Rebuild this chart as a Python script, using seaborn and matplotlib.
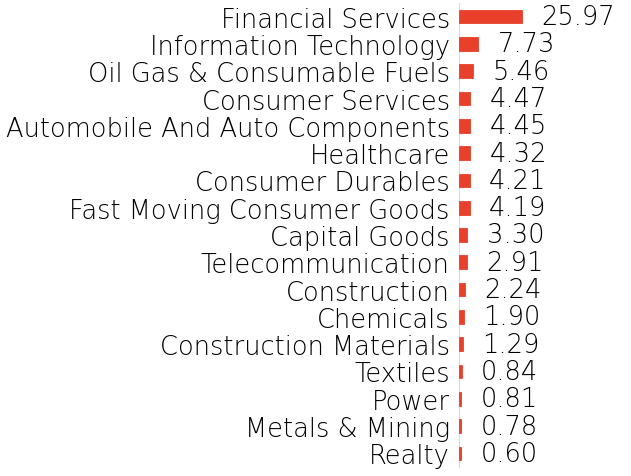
import matplotlib
matplotlib.use("Agg")
import matplotlib.pyplot as plt
import seaborn as sns
import pandas as pd

sectors = [
    "Financial Services", "Information Technology", "Oil Gas & Consumable Fuels",
    "Consumer Services", "Automobile And Auto Components", "Healthcare",
    "Consumer Durables", "Fast Moving Consumer Goods", "Capital Goods",
    "Telecommunication", "Construction", "Chemicals", "Construction Materials",
    "Textiles", "Power", "Metals & Mining", "Realty",
]
weights = [25.97, 7.73, 5.46, 4.47, 4.45, 4.32, 4.21, 4.19, 3.30,
           2.91, 2.24, 1.90, 1.29, 0.84, 0.81, 0.78, 0.60]

df = pd.DataFrame({"sector": sectors, "weight": weights})

sns.set_style("white")
plt.rcParams["font.family"] = ["DejaVu Sans"]

fig = plt.figure(figsize=(6.31, 4.77), dpi=100)
ax = fig.add_axes([459.5 / 631, 1 - 468 / 477, 171.5 / 631, 464 / 477])

bar_color = "#E8402B"
sns.barplot(data=df, x="weight", y="sector", color=bar_color, width=0.5,
            saturation=1, ax=ax, zorder=3, edgecolor=bar_color, linewidth=0.6)

ax.set_xlim(0, 171.5 / 62.5 * 25.97)
ax.set_xlabel("")
ax.set_ylabel("")
ax.set_xticks([])
for s in ["top", "right", "bottom"]:
    ax.spines[s].set_visible(False)
ax.spines["left"].set_color("#d9d9d9")
ax.spines["left"].set_zorder(1)
ax.tick_params(axis="y", length=4, color="#d9d9d9", pad=3,
               labelsize=18.5, labelcolor="black")
for lab in ax.get_yticklabels():
    lab.set_fontweight("light")

for i, v in enumerate(weights):
    ax.annotate(f"{v:.2f}", xy=(v, i), xytext=(14, 0), textcoords="offset points",
                va="center", ha="left", fontsize=18.5, color="black",
                fontweight="light")

fig.savefig("out.png", dpi=100)
